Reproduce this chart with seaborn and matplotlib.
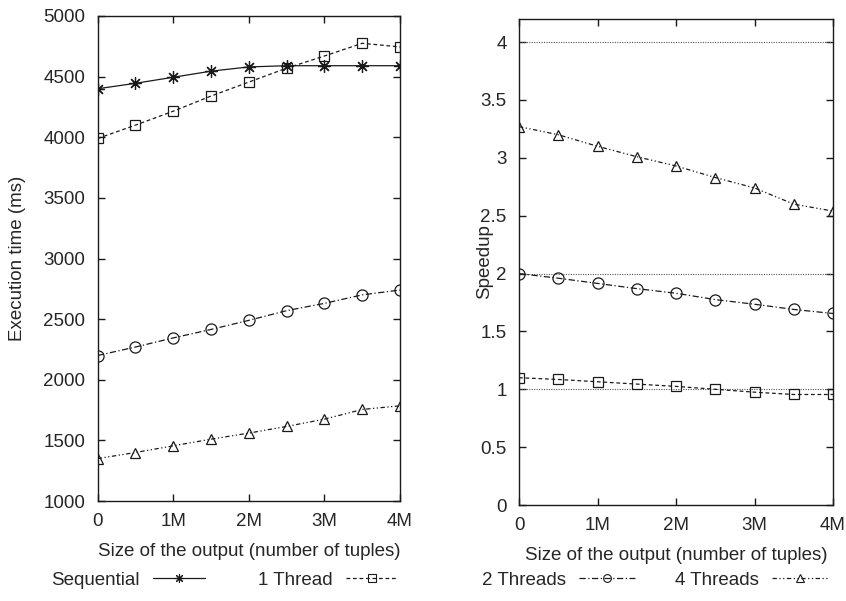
import matplotlib
matplotlib.use("Agg")
import matplotlib.pyplot as plt
from matplotlib.lines import Line2D
import seaborn as sns
import pandas as pd

# ---- data (x in millions of tuples) ----
sizes = [0, 0.5, 1, 1.5, 2, 2.5, 3, 3.5, 4]
x_ticks = [0, 1, 2, 3, 4]
x_ticklabels = ["0", "1M", "2M", "3M", "4M"]

time_sequential = [4400, 4445, 4495, 4545, 4580, 4590, 4590, 4590, 4590]
time_1thread = [3990, 4100, 4215, 4340, 4455, 4570, 4670, 4775, 4745]
time_2threads = [2200, 2270, 2345, 2415, 2490, 2570, 2630, 2700, 2740]
time_4threads = [1350, 1400, 1455, 1510, 1560, 1615, 1675, 1755, 1785]

speedup_1thread = [1.10, 1.085, 1.065, 1.045, 1.025, 1.0, 0.975, 0.955, 0.955]
speedup_2threads = [2.0, 1.96, 1.915, 1.87, 1.83, 1.775, 1.735, 1.69, 1.655]
speedup_4threads = [3.27, 3.20, 3.10, 3.01, 2.93, 2.83, 2.74, 2.60, 2.54]
ideal_speedups = [1, 2, 4]

left_yticks = [1000, 1500, 2000, 2500, 3000, 3500, 4000, 4500, 5000]
right_yticks = [0, 0.5, 1, 1.5, 2, 2.5, 3, 3.5, 4]
right_yticklabels = ["0", "0.5", "1", "1.5", "2", "2.5", "3", "3.5", "4"]

# ---- style ----
sns.set_style("ticks")
plt.rcParams["font.family"] = ["Liberation Sans", "DejaVu Sans"]
plt.rcParams["font.size"] = 13.5

INK = "#1a1a1a"
styles = {
    "Sequential": dict(marker=(8, 2, 0), linestyle="-", ms=9),
    "1 Thread": dict(marker="s", linestyle=(0, (3, 2.2)), ms=7.5),
    "2 Threads": dict(marker="o", linestyle=(0, (5, 2, 1, 2)), ms=8),
    "4 Threads": dict(marker="^", linestyle=(0, (3.5, 2, 1, 2, 1, 2)), ms=7.5),
}

fig = plt.figure(figsize=(8.46, 6.01), dpi=100)
W, H = 846, 601
axL = fig.add_axes([97.7 / W, 1 - 501 / H, (400 - 97.7) / W, (501 - 16) / H])
axR = fig.add_axes([519 / W, 1 - 505 / H, (833 - 519) / W, (505 - 19) / H])


def draw(ax, name, yvals):
    st = styles[name]
    df = pd.DataFrame({"x": sizes, "y": yvals})
    sns.lineplot(data=df, x="x", y="y", ax=ax, color=INK, lw=0.9,
                 linestyle=st["linestyle"], marker=st["marker"], ms=st["ms"],
                 mfc="none", mec=INK, mew=0.9, legend=False, label=name)


draw(axL, "Sequential", time_sequential)
draw(axL, "1 Thread", time_1thread)
draw(axL, "2 Threads", time_2threads)
draw(axL, "4 Threads", time_4threads)

for v in ideal_speedups:
    axR.axhline(v, color="#555555", lw=0.8, linestyle=(0, (1, 1.2)), zorder=1)
draw(axR, "1 Thread", speedup_1thread)
draw(axR, "2 Threads", speedup_2threads)
draw(axR, "4 Threads", speedup_4threads)

for ax in (axL, axR):
    ax.set_xlim(0, 4)
    ax.set_xticks(x_ticks)
    ax.set_xticklabels(x_ticklabels)
    ax.tick_params(direction="in", length=5, width=1, top=True, right=True,
                   labelsize=13.5, color=INK, pad=9)
    for sp in ax.spines.values():
        sp.set_visible(True)
        sp.set_linewidth(1.0)
        sp.set_color(INK)
    ax.set_xlabel("Size of the output (number of tuples)", fontsize=13.5, labelpad=9)
    ax.grid(False)

axL.set_ylim(1000, 5000)
axL.set_yticks(left_yticks)
axL.set_yticklabels([str(v) for v in left_yticks])
axL.set_ylabel("Execution time (ms)", fontsize=13.5, va="center")
axL.yaxis.set_label_coords(-0.264, 0.5)

axR.set_ylim(0, 4.2)
axR.set_yticks(right_yticks)
axR.set_yticklabels(right_yticklabels)
axR.set_ylabel("Speedup", fontsize=13.5, va="center")
axR.yaxis.set_label_coords(-0.11, 0.5)


def handle(name):
    st = styles[name]
    return Line2D([], [], color=INK, lw=0.9, linestyle=st["linestyle"],
                  marker=st["marker"], ms=st["ms"] * 0.7, mfc="none", mec=INK, mew=0.8)


legL = fig.legend([handle("Sequential"), handle("1 Thread")], ["Sequential", "1 Thread"],
                  loc="center right", bbox_to_anchor=(398 / W, 1 - 580 / H), ncol=2,
                  frameon=False, markerfirst=False, handlelength=2.8, handletextpad=0.7,
                  columnspacing=2.8, borderpad=0, borderaxespad=0, fontsize=13.5)
legR = fig.legend([handle("2 Threads"), handle("4 Threads")], ["2 Threads", "4 Threads"],
                  loc="center right", bbox_to_anchor=(828 / W, 1 - 580 / H), ncol=2,
                  frameon=False, markerfirst=False, handlelength=3.0, handletextpad=0.7,
                  columnspacing=2.1, borderpad=0, borderaxespad=0, fontsize=13.5)

fig.savefig("out.png", dpi=100)
